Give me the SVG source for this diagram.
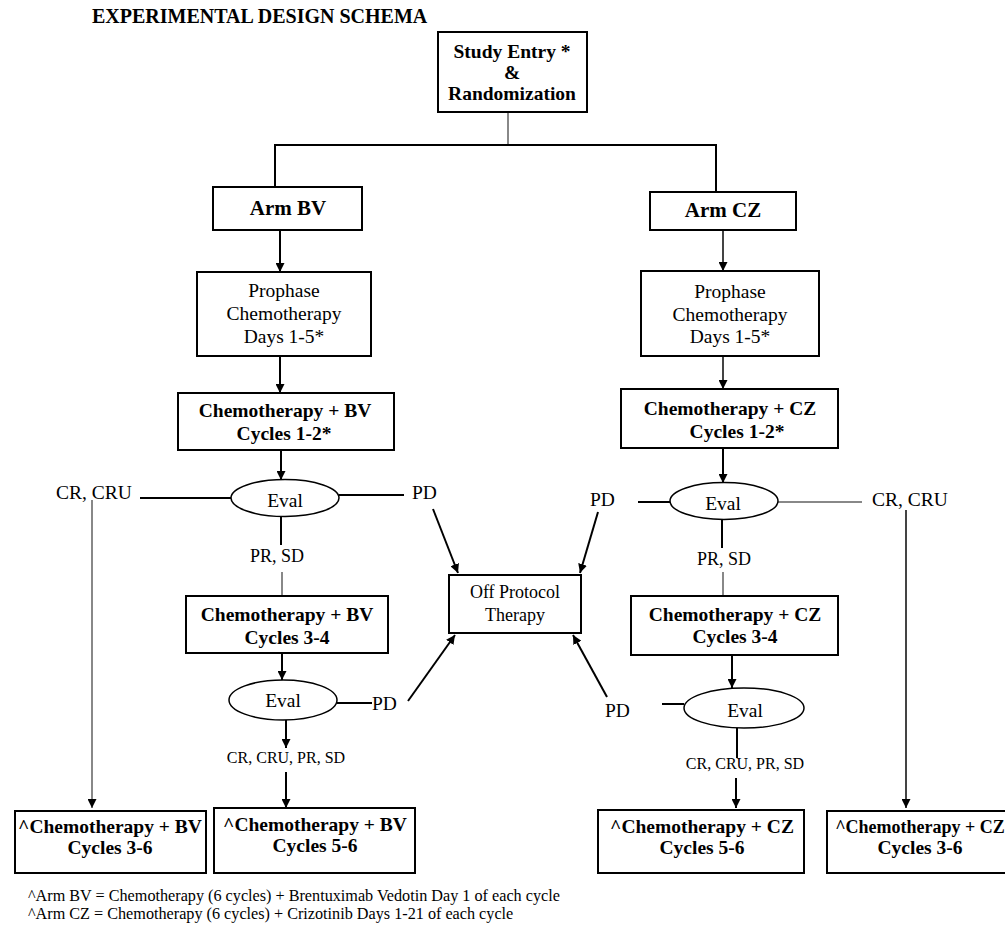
<svg xmlns="http://www.w3.org/2000/svg" width="1005" height="928" viewBox="0 0 1005 928">
  <style>
    text { font-family: "Liberation Serif", "Times New Roman", serif; fill: #000; }
    .b { font-weight: bold; }
    .c { text-anchor: middle; }
    .f20 { font-size: 20px; }
    .f19 { font-size: 19.5px; }
    .f21 { font-size: 21px; }
    .f18 { font-size: 18px; }
    .f16 { font-size: 16px; }
    .fn { font-size: 16.2px; }
    .box { fill: #fff; stroke: #000; stroke-width: 2; }
    .ev { fill: #fff; stroke: #000; stroke-width: 1.5; }
    .ln { stroke: #000; stroke-width: 2; fill: none; }
    .lg { stroke: #888; stroke-width: 2; fill: none; }
    .ld { stroke: #444; stroke-width: 2; fill: none; }
    .ar { marker-end: url(#arrow); }
  </style>
  <defs>
    <marker id="arrow" viewBox="0 0 10 10" refX="10" refY="5" markerWidth="9" markerHeight="9" markerUnits="userSpaceOnUse" orient="auto">
      <path d="M0,0 L10,5 L0,10 z" fill="#000"/>
    </marker>
  </defs>

  <rect width="1005" height="928" fill="#fff"/>

  <text x="92" y="23" class="b f20">EXPERIMENTAL DESIGN SCHEMA</text>

  <!-- connectors -->
  <g id="connectors">
    <line class="lg" x1="508" y1="112" x2="508" y2="145"/>
    <polyline class="ln" points="275,187 275,145 716,145 716,192"/>
    <line class="ln ar" x1="280" y1="230" x2="280" y2="272"/>
    <line class="ld ar" x1="723" y1="230" x2="723" y2="271"/>
    <line class="ln ar" x1="280" y1="356" x2="280" y2="393"/>
    <line class="ld ar" x1="723" y1="356" x2="723" y2="389"/>
    <line class="ln ar" x1="281" y1="450" x2="281" y2="480"/>
    <line class="ln ar" x1="723" y1="448" x2="723" y2="483"/>

    <!-- arm BV evaluation branches -->
    <line class="ln" x1="140" y1="498" x2="231" y2="498"/>
    <line class="lg ar" x1="92" y1="500" x2="92" y2="808"/>
    <line class="ln" x1="339" y1="495" x2="404" y2="495"/>
    <line class="ln ar" x1="433" y1="509" x2="458" y2="573"/>
    <line class="ln" x1="281" y1="517" x2="281" y2="545"/>
    <line class="lg" x1="282" y1="572" x2="282" y2="596"/>
    <line class="ln ar" x1="282" y1="653" x2="282" y2="680"/>
    <line class="ln" x1="337" y1="703" x2="372" y2="703"/>
    <line class="ln ar" x1="408" y1="701" x2="455" y2="635"/>
    <line class="ln ar" x1="286" y1="720" x2="286" y2="748"/>
    <line class="ln ar" x1="286" y1="772" x2="286" y2="808"/>

    <!-- arm CZ evaluation branches -->
    <line class="ln" x1="638" y1="502" x2="670" y2="502"/>
    <line class="ln ar" x1="598" y1="512" x2="580" y2="573"/>
    <line class="lg" x1="778" y1="502" x2="862" y2="502"/>
    <line class="ld ar" x1="906" y1="510" x2="906" y2="808"/>
    <line class="ln" x1="722" y1="520" x2="722" y2="548"/>
    <line class="lg" x1="723" y1="572" x2="723" y2="596"/>
    <line class="ln ar" x1="732" y1="655" x2="732" y2="688"/>
    <line class="ln" x1="662" y1="704" x2="684" y2="704"/>
    <line class="ln ar" x1="607" y1="697" x2="573" y2="635"/>
    <line class="ln" x1="737" y1="728" x2="737" y2="758"/>
    <line class="ln ar" x1="736" y1="778" x2="736" y2="808"/>
  </g>

  <g id="study-entry">
    <rect class="box" x="438" y="32" width="149" height="80"/>
    <text class="b c f19" x="512" y="58">Study Entry *</text>
    <text class="b c f19" x="512" y="79">&amp;</text>
    <text class="b c f19" x="512" y="100">Randomization</text>
  </g>

  <g id="arm-bv">
    <rect class="box" x="213" y="187" width="149" height="43"/>
    <text class="b c f21" x="288" y="215">Arm BV</text>
  </g>
  <g id="arm-cz">
    <rect class="box" x="650" y="192" width="146" height="38"/>
    <text class="b c f21" x="723" y="217">Arm CZ</text>
  </g>

  <g id="prophase-bv">
    <rect class="box" x="197" y="272" width="174" height="84"/>
    <text class="c f19" x="284" y="297">Prophase</text>
    <text class="c f19" x="284" y="320">Chemotherapy</text>
    <text class="c f19" x="284" y="343">Days 1-5*</text>
  </g>
  <g id="prophase-cz">
    <rect class="box" x="641" y="271" width="178" height="85"/>
    <text class="c f19" x="730" y="298">Prophase</text>
    <text class="c f19" x="730" y="321">Chemotherapy</text>
    <text class="c f19" x="730" y="343">Days 1-5*</text>
  </g>

  <g id="chemo-bv-1-2">
    <rect class="box" x="178" y="393" width="216" height="57"/>
    <text class="b c f19" x="285" y="417">Chemotherapy + BV</text>
    <text class="b c f19" x="284" y="440">Cycles 1-2*</text>
  </g>
  <g id="chemo-cz-1-2">
    <rect class="box" x="621" y="389" width="217" height="59"/>
    <text class="b c f19" x="730" y="415">Chemotherapy + CZ</text>
    <text class="b c f19" x="737" y="438">Cycles 1-2*</text>
  </g>

  <g id="eval-bv-1">
    <ellipse class="ev" cx="285" cy="498" rx="54" ry="18.5"/>
    <text class="c f19" x="285" y="507">Eval</text>
  </g>
  <g id="eval-cz-1">
    <ellipse class="ev" cx="724" cy="501" rx="54" ry="18.5"/>
    <text class="c f19" x="723" y="510">Eval</text>
  </g>

  <g id="labels">
    <text class="f19" x="56" y="499">CR, CRU</text>
    <text class="f19" x="412" y="499">PD</text>
    <text class="c f18" x="277" y="562">PR, SD</text>
    <text class="f19" x="372" y="710">PD</text>
    <text class="c f16" x="286" y="763">CR, CRU, PR, SD</text>
    <text class="f19" x="590" y="506">PD</text>
    <text class="f19" x="872" y="506">CR, CRU</text>
    <text class="c f18" x="724" y="565">PR, SD</text>
    <text class="f19" x="605" y="717">PD</text>
    <text class="c f16" x="745" y="769">CR, CRU, PR, SD</text>
  </g>

  <g id="chemo-bv-3-4">
    <rect class="box" x="186" y="596" width="202" height="57"/>
    <text class="b c f19" x="287" y="621">Chemotherapy + BV</text>
    <text class="b c f19" x="287" y="644">Cycles 3-4</text>
  </g>
  <g id="chemo-cz-3-4">
    <rect class="box" x="631" y="596" width="207" height="59"/>
    <text class="b c f19" x="735" y="621">Chemotherapy + CZ</text>
    <text class="b c f19" x="735" y="643">Cycles 3-4</text>
  </g>

  <g id="off-protocol">
    <rect class="box" x="449" y="575" width="132" height="58"/>
    <text class="c f18" x="515" y="598">Off Protocol</text>
    <text class="c f18" x="515" y="621">Therapy</text>
  </g>

  <g id="eval-bv-2">
    <ellipse class="ev" cx="283" cy="700" rx="54" ry="20"/>
    <text class="c f19" x="283" y="707">Eval</text>
  </g>
  <g id="eval-cz-2">
    <ellipse class="ev" cx="744" cy="708" rx="60" ry="20"/>
    <text class="c f19" x="745" y="717">Eval</text>
  </g>

  <g id="final-bv-3-6">
    <rect class="box" x="15" y="811" width="191" height="62"/>
    <text class="b c f19" x="110" y="833">^Chemotherapy + BV</text>
    <text class="b c f19" x="110" y="854">Cycles 3-6</text>
  </g>
  <g id="final-bv-5-6">
    <rect class="box" x="214" y="808" width="201" height="65"/>
    <text class="b c f19" x="315" y="831">^Chemotherapy + BV</text>
    <text class="b c f19" x="315" y="852">Cycles 5-6</text>
  </g>
  <g id="final-cz-5-6">
    <rect class="box" x="598" y="810" width="206" height="63"/>
    <text class="b c f19" x="702" y="833">^Chemotherapy + CZ</text>
    <text class="b c f19" x="702" y="854">Cycles 5-6</text>
  </g>
  <g id="final-cz-3-6">
    <rect class="box" x="827" y="811" width="190" height="62"/>
    <text class="b c f18" x="920" y="833">^Chemotherapy + CZ</text>
    <text class="b c f19" x="920" y="854">Cycles 3-6</text>
  </g>

  <g id="footnotes">
    <text class="fn" x="28" y="901">^Arm BV = Chemotherapy (6 cycles) + Brentuximab Vedotin Day 1 of each cycle</text>
    <text class="fn" x="28" y="919">^Arm CZ = Chemotherapy (6 cycles) + Crizotinib Days 1-21 of each cycle</text>
  </g>
</svg>
